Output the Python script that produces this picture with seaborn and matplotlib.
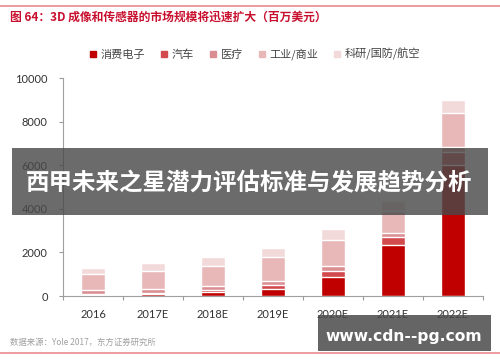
import matplotlib
matplotlib.use("Agg")
import matplotlib.pyplot as plt
from matplotlib.patches import Rectangle
from matplotlib.lines import Line2D
import seaborn as sns
import pandas as pd
import numpy as np

years = ['2016', '2017E', '2018E', '2019E', '2020E', '2021E', '2022E']
series_names = ['消费电子', '汽车', '医疗', '工业/商业', '科研/国防/航空']
consumer = [40, 100, 200, 330, 890, 2340, 6000]
auto = [60, 60, 80, 170, 270, 380, 620]
medical = [170, 140, 180, 200, 200, 180, 230]
industrial = [720, 850, 930, 1080, 1230, 1000, 1550]
defense = [310, 380, 390, 420, 470, 450, 600]
colors = ['#C00000', '#D24A4E', '#DB8E91', '#E8B8B9', '#F3DADA']
yticks = [0, 2000, 4000, 6000, 8000, 10000]

sns.set_theme(style='white')
plt.rcParams['font.family'] = ['Noto Sans CJK SC', 'DejaVu Sans']

values = [consumer, auto, medical, industrial, defense]
cum = np.cumsum(np.array(values), axis=0)
rows = []
for si, name in enumerate(series_names):
    for yi, yr in enumerate(years):
        rows.append({'year': yr, 'series': name, 'cum': cum[si, yi]})
df = pd.DataFrame(rows)

fig = plt.figure(figsize=(5.0, 3.62), dpi=100)
ax = fig.add_axes([0.126, 0.1823, 0.84, 0.6022])

for si in range(len(series_names) - 1, -1, -1):
    sub = df[df['series'] == series_names[si]]
    sns.barplot(data=sub, x='year', y='cum', order=years, color=colors[si],
                saturation=1, width=0.4, ax=ax, zorder=2)

ax.set_xlim(-0.5, 6.5)
ax.set_ylim(0, 10000)
ax.set_yticks(yticks)
ax.set_yticklabels([str(t) for t in yticks], fontsize=8, family='Lato', color='#333333')
ax.set_xticks(range(len(years)))
ax.set_xticklabels(years, fontsize=8, family='Lato', color='#333333')
ax.set_xticks([i - 0.5 for i in range(len(years) + 1)], minor=True)
ax.tick_params(axis='x', which='major', length=0, pad=9)
ax.tick_params(axis='x', which='minor', length=3, color='#999999', width=0.8, direction='out', bottom=True)
ax.tick_params(axis='y', length=3, color='#999999', width=0.8, direction='out', left=True, pad=8)
ax.set_xlabel('')
ax.set_ylabel('')
for s in ['top', 'right']:
    ax.spines[s].set_visible(False)
for s in ['left', 'bottom']:
    ax.spines[s].set_color('#A0A0A0')
    ax.spines[s].set_linewidth(0.8)
ax.grid(False)

handles = [Line2D([0], [0], marker='s', linestyle='none', markersize=4,
                  markerfacecolor=c, markeredgecolor=c) for c in colors]
fig.legend(handles, series_names, loc='center', bbox_to_anchor=(0.51, 1 - 54 / 362),
           ncol=5, frameon=False, fontsize=8, handlelength=0.6, handletextpad=0.4,
           columnspacing=1.4, labelcolor='#444444')

# header/footer decorations
fig.add_artist(Line2D([0.0, 1.0], [1 - 5.5 / 362, 1 - 5.5 / 362], color='#E88A90', lw=1.2))
fig.add_artist(Line2D([0.0, 1.0], [1 - 352.5 / 362, 1 - 352.5 / 362], color='#E88A90', lw=1.2))
fig.text(10 / 500, 1 - 17 / 362, '图 64：3D 成像和传感器的市场规模将迅速扩大（百万美元）',
         fontsize=8.5, fontweight='bold', color='#C8102E', va='center', ha='left')
fig.text(10 / 500, 1 - 342 / 362, '数据来源：Yole 2017，东方证券研究所',
         fontsize=6, color='#A0A0A0', va='center', ha='left')

# overlay banner
fig.add_artist(Rectangle((12 / 500, 1 - 215 / 362), 476 / 500, 67 / 362,
                         transform=fig.transFigure, facecolor='#4A4A4A', alpha=0.82,
                         edgecolor='none', zorder=10))
fig.text(249 / 500, 1 - 183 / 362, '西甲未来之星潜力评估标准与发展趋势分析',
         fontsize=16.9, fontweight='bold', color='white', va='center', ha='center', zorder=11)

# watermark box
fig.add_artist(Rectangle((318 / 500, 1 - 351 / 362), 173 / 500, 36 / 362,
                         transform=fig.transFigure, facecolor='#4A4A4A', alpha=0.85,
                         edgecolor='none', zorder=10))
fig.text(404 / 500, 1 - 336 / 362, 'www.cdn--pg.com', fontsize=11.2, fontweight='bold',
         family='DejaVu Sans', color='white', va='center', ha='center', zorder=11)

fig.savefig('out.png', dpi=100)
